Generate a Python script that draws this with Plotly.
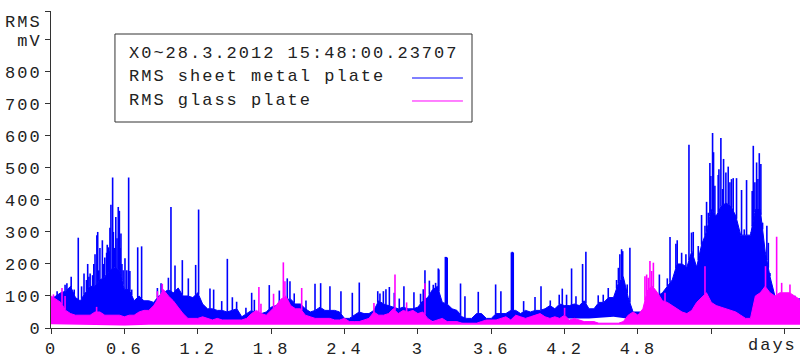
import numpy as np
import plotly.graph_objects as go

# ---------------- data ----------------
BODY_STEP = 0.04   # days between body samples
# upper envelope of the dense "RMS sheet metal plate" signal (mV), 0.00 .. 6.12 d
sheet_body = [
    90, 100, 110, 115, 130, 95, 85, 110, 130, 130, 150, 160, 180, 190, 180, 120, 120, 85, 100, 85, 85, 80, 100, 110, 120,
    110, 125, 100, 100, 95, 110, 75, 60, 60, 55, 55, 50, 55, 60, 35, 45, 55, 45, 45, 50, 65, 70, 75, 90, 90,
    75, 75, 60, 50, 55, 65, 55, 55, 55, 50, 30, 30, 40, 50, 45, 45, 55, 85, 75, 70, 65, 60, 65, 60, 60,
    65, 85, 95, 120, 130, 80, 75, 60, 55, 35, 30, 30, 45, 45, 30, 30, 45, 45, 45, 55, 55, 45, 55, 50, 55,
    55, 60, 70, 60, 75, 70, 70, 75, 70, 85, 60, 60, 80, 80, 95, 95, 140, 160, 95, 50, 50, 50, 60, 80, 100,
    110, 130, 150, 200, 200, 190, 240, 190, 260, 300, 370, 350, 380, 390, 380, 350, 290, 290, 290, 370, 370, 240, 160, 100, 70,
    60, 55, 90, 70,
]
# upper envelope of the "RMS glass plate" signal (mV), 0.00 .. 6.12 d
glass_body = [
    100, 90, 80, 55, 45, 40, 40, 40, 40, 50, 50, 40, 40, 40, 40, 35, 40, 40, 50, 55, 55, 70, 95, 120, 100,
    85, 65, 45, 30, 30, 30, 35, 30, 25, 30, 25, 25, 25, 25, 25, 30, 45, 55, 45, 40, 55, 70, 90, 100, 70,
    60, 60, 40, 35, 30, 30, 30, 30, 25, 25, 30, 20, 20, 20, 25, 30, 50, 40, 40, 45, 60, 45, 55, 50, 55,
    45, 50, 30, 20, 25, 30, 20, 20, 20, 15, 15, 15, 15, 20, 25, 25, 25, 30, 35, 25, 40, 35, 30, 35, 40,
    45, 35, 30, 35, 30, 40, 25, 30, 25, 20, 20, 20, 15, 15, 15, 15, 15, 20, 40, 50, 40, 60, 120, 130, 110,
    85, 80, 70, 60, 50, 45, 55, 80, 95, 110, 80, 70, 65, 60, 55, 50, 40, 30, 30, 100, 110, 130, 110, 100, 110,
    110, 110, 100, 90,
]

LOW_STEP = 0.2     # days between lower-envelope samples
sheet_low = [40, 25, 25, 15, 30, 30, 20, 20, 20, 25, 25, 25, 15, 20, 25, 25,
             20, 15, 15, 20, 25, 30, 30, 35, 25, 20, 20, 20, 20, 20, 25, 25]
glass_low = [12, 10, 10, 8, 10, 10, 10, 10, 10, 10, 10, 10, 10, 8, 10, 10,
             10, 8, 8, 10, 10, 10, 10, 8, 10, 10, 10, 10, 10, 10, 10, 10]

# isolated peaks rising above the envelope
sheet_spike_days = [
    0.05, 0.115, 0.13, 0.165, 0.19, 0.223, 0.25, 0.27, 0.29, 0.30, 0.31, 0.32, 0.34, 0.35, 0.36, 0.375, 0.382, 0.39, 0.40, 0.42,
    0.43, 0.44, 0.455, 0.46, 0.47, 0.475, 0.482, 0.49, 0.504, 0.51, 0.52, 0.53, 0.54, 0.55, 0.559, 0.565, 0.572, 0.58, 0.59, 0.605,
    0.62, 0.635, 0.645, 0.66, 0.709, 0.741, 0.87, 0.90, 0.96, 0.981, 1.014, 1.074, 1.123, 1.183, 1.207, 1.30, 1.33, 1.396, 1.442, 1.483,
    1.518, 1.594, 1.641, 1.663, 1.785, 1.867, 1.932, 1.954, 1.989, 2.085, 2.159, 2.205, 2.281, 2.371, 2.464, 2.521, 2.672, 2.69, 2.718, 2.739,
    2.767, 2.807, 2.848, 2.886, 2.968, 3.022, 3.044, 3.058, 3.094, 3.126, 3.145, 3.167, 3.172, 3.225, 3.232, 3.24, 3.349, 3.385, 3.494, 3.636,
    3.679, 3.765, 3.772, 3.78, 3.865, 3.958, 4.007, 4.083, 4.156, 4.181, 4.216, 4.257, 4.293, 4.347, 4.374, 4.475, 4.516, 4.557, 4.625, 4.64,
    4.652, 4.666, 4.675, 4.685, 4.712, 4.734, 4.975, 5.04, 5.062, 5.11, 5.121, 5.157, 5.192, 5.217, 5.238, 5.252, 5.293, 5.32, 5.348, 5.361,
    5.375, 5.388, 5.396, 5.41, 5.418, 5.429, 5.456, 5.462, 5.478, 5.492, 5.50, 5.519, 5.538, 5.552, 5.565, 5.579, 5.606, 5.628, 5.647, 5.669,
    5.688, 5.71, 5.723, 5.734, 5.743, 5.756, 5.77, 5.781, 5.792, 5.805, 5.819, 5.833, 5.854, 5.866, 5.879, 5.907, 6.07, 6.084, 6.116,
]
sheet_spike_vals = [
    115, 135, 140, 160, 120, 282, 130, 170, 150, 200, 160, 170, 165, 200, 230, 290, 300, 180, 250, 274,
    200, 220, 235, 260, 252, 240, 313, 385, 470, 300, 250, 347, 280, 378, 366, 250, 295, 200, 180, 218,
    180, 470, 178, 120, 252, 255, 125, 140, 157, 378, 195, 212, 155, 197, 370, 123, 120, 84, 216, 96,
    82, 63, 110, 88, 134, 117, 155, 146, 108, 86, 138, 140, 130, 115, 110, 142, 115, 108, 115, 121,
    128, 110, 92, 130, 112, 107, 121, 180, 148, 135, 141, 186, 183, 222, 222, 220, 139, 99, 113, 136,
    115, 236, 238, 236, 84, 97, 130, 86, 104, 123, 104, 186, 99, 200, 238, 102, 104, 125, 150, 188,
    230, 246, 240, 136, 136, 251, 167, 155, 284, 263, 274, 235, 230, 572, 298, 300, 256, 353, 319, 394,
    360, 515, 475, 609, 549, 444, 478, 496, 593, 434, 528, 486, 504, 455, 465, 468, 468, 287, 431, 308,
    462, 235, 298, 428, 569, 455, 517, 465, 546, 512, 329, 245, 319, 266, 172, 115, 89, 101, 94,
]
glass_spike_days = [0.02, 0.09, 0.115, 0.373, 0.87, 0.91, 1.70, 1.717, 1.82, 1.90, 1.913, 2.05, 2.641, 2.813, 2.908,
                    3.058, 4.2, 4.857, 4.871, 4.884, 4.898, 4.912, 4.926, 5.021, 5.348, 5.843, 5.934, 5.975, 6.043]
glass_spike_vals = [105, 125, 100, 66, 115, 138, 128, 76, 107, 205, 146, 125, 78, 167, 80,
                    140, 63, 162, 167, 157, 209, 178, 204, 110, 193, 193, 285, 141, 136]

x_tick_vals = [0, 0.6, 1.2, 1.8, 2.4, 3.0, 3.6, 4.2, 4.8, 5.4, 6.0]
x_tick_text = ['0', '0.6', '1.2', '1.8', '2.4', '3', '3.6', '4.2', '4.8', '', '']
x_unit = 'days'
y_tick_vals = [0, 100, 200, 300, 400, 500, 600, 700, 800, 900, 990]
y_tick_text = ['0', '100', '200', '300', '400', '500', '600', '700', '800', 'mV', '']

legend_header = 'X0~28.3.2012 15:48:00.23707'
sheet_name = 'RMS sheet metal plate'
glass_name = 'RMS glass plate'
y_unit_top = 'RMS'

assert len(sheet_spike_days) == len(sheet_spike_vals)
assert len(glass_spike_days) == len(glass_spike_vals)

# ---------------- build ----------------
BLUE = '#0000ff'
MAGENTA = '#ff00ff'
FONT = 'Liberation Mono'
TXT = '#222222'


def sp(s):
    return '<span style="letter-spacing:2px">%s</span>' % s if s else s


body_days = np.arange(len(sheet_body)) * BODY_STEP
low_days = np.arange(len(sheet_low)) * LOW_STEP


def spikes(days, vals, body):
    xs, ys = [], []
    for d, v in zip(days, vals):
        base = float(np.interp(d, body_days, body))
        xs += [d, d, None]
        ys += [min(base, v), v, None]
    return xs, ys


fig = go.Figure()
# sheet metal plate
fig.add_trace(go.Scatter(x=low_days, y=sheet_low, mode='lines', line=dict(width=0, color=BLUE),
                         hoverinfo='skip', showlegend=False))
fig.add_trace(go.Scatter(x=body_days, y=sheet_body, mode='lines', fill='tonexty', fillcolor=BLUE,
                         line=dict(width=1, color=BLUE), name=sheet_name, showlegend=False))
sx, sy = spikes(sheet_spike_days, sheet_spike_vals, sheet_body)
fig.add_trace(go.Scatter(x=sx, y=sy, mode='lines', line=dict(width=1.6, color=BLUE),
                         connectgaps=False, showlegend=False, hoverinfo='skip'))
# glass plate
fig.add_trace(go.Scatter(x=low_days, y=glass_low, mode='lines', line=dict(width=0, color=MAGENTA),
                         hoverinfo='skip', showlegend=False))
fig.add_trace(go.Scatter(x=body_days, y=glass_body, mode='lines', fill='tonexty', fillcolor=MAGENTA,
                         line=dict(width=1, color=MAGENTA), name=glass_name, showlegend=False))
gx, gy = spikes(glass_spike_days, glass_spike_vals, glass_body)
fig.add_trace(go.Scatter(x=gx, y=gy, mode='lines', line=dict(width=1.6, color=MAGENTA),
                         connectgaps=False, showlegend=False, hoverinfo='skip'))

axis_common = dict(showline=True, linecolor='#333333', linewidth=1, ticks='outside', ticklen=5,
                   tickcolor='#333333', showgrid=False, zeroline=False, automargin=False,
                   tickfont=dict(family=FONT, size=17, color=TXT))
fig.update_xaxes(range=[0, 6.125], tickmode='array', tickvals=x_tick_vals,
                 ticktext=[sp(t) for t in x_tick_text], **axis_common)
fig.update_yaxes(range=[0, 990], tickmode='array', tickvals=y_tick_vals,
                 ticktext=[sp(t) for t in y_tick_text], **axis_common)

# legend box drawn manually (line samples on the right, like the original)
fig.add_shape(type='rect', xref='paper', yref='paper', x0=0.0854, x1=0.5621, y0=0.6498, y1=0.9274,
              line=dict(color='#333333', width=1), fillcolor='white', layer='above')
fig.add_shape(type='line', xref='paper', yref='paper', x0=0.482, x1=0.550, y0=0.7886, y1=0.7886,
              line=dict(color=BLUE, width=1), layer='above')
fig.add_shape(type='line', xref='paper', yref='paper', x0=0.482, x1=0.550, y0=0.7161, y1=0.7161,
              line=dict(color=MAGENTA, width=1), layer='above')
for text, yy in [(legend_header, 0.8644), (sheet_name, 0.7918), (glass_name, 0.7192)]:
    fig.add_annotation(xref='paper', yref='paper', x=0.1015, y=yy, text=sp(text), showarrow=False,
                       xanchor='left', yanchor='middle', font=dict(family=FONT, size=17, color=TXT))
fig.add_annotation(xref='paper', yref='paper', x=0, y=0.9716, xshift=-7, yshift=-2, text=sp(y_unit_top),
                   showarrow=False, xanchor='right', yanchor='middle', font=dict(family=FONT, size=17, color=TXT))
# unit label under the last x tick
fig.add_annotation(xref='paper', yref='paper', x=1, y=0, xshift=-1, yshift=-6, text=sp(x_unit), showarrow=False,
                   xanchor='right', yanchor='top', font=dict(family=FONT, size=17, color=TXT))

fig.update_layout(width=805, height=360, margin=dict(l=51, r=5, t=11, b=32),
                  paper_bgcolor='white', plot_bgcolor='white', showlegend=False)

fig.write_html('out.html', config={'displayModeBar': False},
               post_script="document.body.style.margin='0';")
